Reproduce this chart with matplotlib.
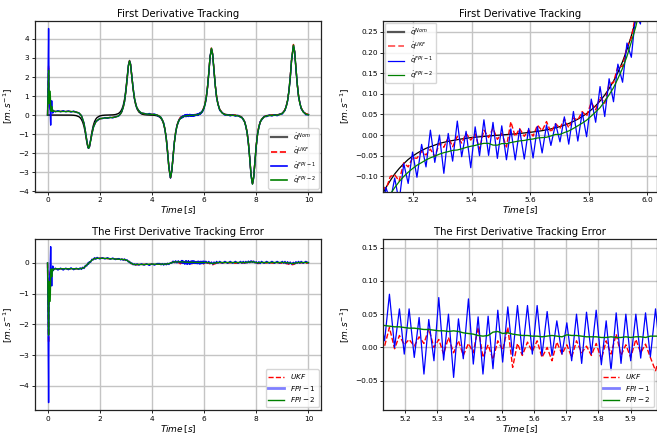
import numpy as np
import matplotlib
matplotlib.use("Agg")
import matplotlib.pyplot as plt
from matplotlib.lines import Line2D
from matplotlib.ticker import MultipleLocator

# ---------------- data ----------------
time_s = [
    0, 0.02, 0.04, 0.06, 0.08, 0.10, 0.12, 0.14, 0.16, 0.18, 0.20, 0.22, 0.25,
    0.3, 0.4, 0.5, 0.6, 0.7, 0.8, 0.9, 1.0, 1.1, 1.2,
    1.25, 1.3, 1.35, 1.4, 1.45, 1.5, 1.55, 1.571, 1.6, 1.65, 1.7, 1.75, 1.8, 1.85, 1.9, 2.0,
    2.1, 2.2, 2.3, 2.4, 2.5, 2.6, 2.7,
    2.75, 2.8, 2.85, 2.9, 2.95, 3.0, 3.05, 3.1, 3.142, 3.18, 3.23, 3.28, 3.33, 3.38, 3.43, 3.5, 3.6,
    3.7, 3.8, 3.9, 4.0, 4.1, 4.2,
    4.3, 4.35, 4.4, 4.45, 4.5, 4.55, 4.6, 4.65, 4.712, 4.76, 4.81, 4.86, 4.91, 4.96, 5.01, 5.06,
    5.091, 5.107, 5.122, 5.137, 5.152, 5.168, 5.183, 5.198, 5.213, 5.229,
    5.244, 5.259, 5.274, 5.290, 5.305, 5.320, 5.335, 5.351, 5.366, 5.381,
    5.397, 5.412, 5.427, 5.442, 5.458, 5.473, 5.488, 5.503, 5.519, 5.534,
    5.549, 5.564, 5.580, 5.595, 5.610, 5.625, 5.641, 5.656, 5.671, 5.687,
    5.702, 5.717, 5.732, 5.748, 5.763, 5.778, 5.793, 5.809, 5.824, 5.839,
    5.855, 5.870, 5.885, 5.900, 5.916, 5.931, 5.946, 5.961, 5.977, 5.992,
    6.007, 6.023, 6.038,
    6.08, 6.13, 6.18, 6.23, 6.283, 6.33, 6.38, 6.43, 6.48, 6.53, 6.6, 6.7, 6.8,
    6.9, 7.0, 7.1, 7.2, 7.3, 7.4,
    7.45, 7.5, 7.55, 7.6, 7.65, 7.7, 7.75, 7.8, 7.854, 7.9, 7.95, 8.0, 8.05, 8.1, 8.15, 8.2, 8.3,
    8.4, 8.5, 8.6, 8.7, 8.8, 8.9, 9.0,
    9.05, 9.1, 9.15, 9.2, 9.25, 9.3, 9.35, 9.425, 9.47, 9.52, 9.57, 9.62, 9.67, 9.72, 9.8, 9.9, 10.0,
]

q_nom = [
    0, 0, 0, 0, 0, 0, 0, 0, 0, 0, 0, 0, 0,
    0, 0, 0, 0, -0.001, -0.002, -0.004, -0.012, -0.032, -0.086,
    -0.141, -0.232, -0.381, -0.614, -0.959, -1.386, -1.712, -1.75, -1.678, -1.318, -0.894, -0.569, -0.35, -0.214, -0.13, -0.048,
    -0.018, -0.006, 0.0, 0.003, 0.009, 0.025, 0.069,
    0.114, 0.188, 0.31, 0.508, 0.824, 1.314, 1.975, 2.635, 2.87, 2.672, 2.032, 1.36, 0.855, 0.528, 0.322, 0.16, 0.059,
    0.022, 0.008, 0.001, -0.005, -0.015, -0.039,
    -0.107, -0.177, -0.291, -0.478, -0.782, -1.257, -1.947, -2.756, -3.3, -2.954, -2.171, -1.429, -0.894, -0.551, -0.333, -0.203,
    -0.149, -0.127, -0.110, -0.094, -0.081, -0.069, -0.059, -0.051, -0.044, -0.0375,
    -0.032, -0.028, -0.024, -0.020, -0.0175, -0.015, -0.013, -0.011, -0.0092, -0.0078,
    -0.006, -0.005, -0.0039, -0.0029, -0.002, -0.0012, -0.0003, 0.0005, 0.0013, 0.0021,
    0.003, 0.004, 0.0051, 0.0063, 0.0076, 0.009, 0.0108, 0.0128, 0.015, 0.0177,
    0.0207, 0.0242, 0.0281, 0.0332, 0.0386, 0.0449, 0.0521, 0.0612, 0.0711, 0.0825,
    0.097, 0.1125, 0.1308, 0.1518, 0.178, 0.2069, 0.2404, 0.279, 0.327, 0.380,
    0.441, 0.516, 0.600,
    0.903, 1.449, 2.219, 3.063, 3.5, 3.147, 2.32, 1.53, 0.956, 0.588, 0.293, 0.108, 0.04,
    0.015, 0.004, -0.002, -0.01, -0.028, -0.077,
    -0.127, -0.209, -0.344, -0.565, -0.921, -1.476, -2.257, -3.128, -3.6, -3.251, -2.401, -1.588, -0.994, -0.612, -0.371, -0.226, -0.083,
    -0.031, -0.011, -0.002, 0.005, 0.014, 0.038, 0.104,
    0.172, 0.284, 0.466, 0.766, 1.237, 1.937, 2.826, 3.66, 3.317, 2.46, 1.63, 1.02, 0.63, 0.382, 0.172, 0.063, 0.023,
]

err_ukf = [
    0, -1.5, -2.6, -0.8, -0.4, -0.3, -0.25, -0.25, -0.2, -0.22, -0.2, -0.2, -0.2,
    -0.19, -0.2, -0.19, -0.2, -0.19, -0.2, -0.19, -0.2, -0.19, -0.19,
    -0.19, -0.18, -0.16, -0.15, -0.11, -0.07, -0.02, 0.0, 0.01, 0.05, 0.09, 0.12, 0.14, 0.15, 0.15, 0.16,
    0.15, 0.15, 0.14, 0.14, 0.13, 0.13, 0.12,
    0.12, 0.12, 0.12, 0.11, 0.1, 0.1, 0.08, 0.06, 0.03, 0.0, -0.03, -0.05, -0.06, -0.05, -0.06, -0.05, -0.05,
    -0.05, -0.04, -0.05, -0.04, -0.05, -0.04,
    -0.04, -0.04, -0.04, -0.04, -0.04, -0.03, -0.03, -0.02, 0.0, 0.02, 0.03, 0.02, 0.01, 0.0, 0.01, 0.0,
    -0.030, 0.005, -0.010, 0.002, 0.030, -0.002, 0.018, 0.004, 0.012, 0.002,
    0.016, 0.006, 0.028, 0.000, 0.012, -0.010, 0.015, -0.008, 0.010, -0.012,
    0.006, -0.008, 0.030, -0.015, 0.004, -0.018, 0.010, -0.004, 0.030, -0.030,
    0.006, -0.012, 0.008, -0.006, 0.010, -0.015, 0.000, -0.020, 0.008, -0.010,
    0.004, -0.015, 0.010, -0.008, 0.002, -0.012, 0.006, -0.018, 0.010, -0.010,
    0.020, -0.012, 0.004, -0.015, 0.012, -0.008, 0.005, -0.015, -0.035, -0.010,
    0.000, -0.010, 0.000,
    0.0, 0.01, -0.01, -0.03, -0.05, -0.06, -0.04, -0.02, -0.01, 0.0, 0.01, 0.0, 0.01,
    0.0, 0.01, 0.0, -0.01, 0.0, 0.01,
    0.0, 0.0, 0.01, 0.0, 0.01, 0.02, 0.03, 0.04, 0.05, 0.04, 0.02, 0.0, -0.01, -0.02, 0.0, 0.0, 0.01,
    0.0, 0.01, 0.0, -0.01, 0.01, 0.0, -0.01,
    0.0, -0.01, -0.02, -0.03, -0.04, -0.05, -0.06, -0.05, -0.03, -0.01, 0.0, 0.01, 0.0, 0.01, 0.0, -0.01, 0.0,
]

err_fpi1 = [
    0, -2.0, -4.55, -1.0, -0.5, -0.2, 0.53, -0.3, -0.75, -0.3, -0.1, -0.25, -0.2,
    -0.17, -0.23, -0.17, -0.23, -0.17, -0.22, -0.16, -0.22, -0.17, -0.21,
    -0.16, -0.21, -0.14, -0.18, -0.08, -0.1, 0.0, -0.04, 0.04, 0.02, 0.12, 0.1, 0.17, 0.12, 0.18, 0.13,
    0.17, 0.13, 0.17, 0.12, 0.16, 0.11, 0.14,
    0.14, 0.1, 0.13, 0.09, 0.13, 0.08, 0.1, 0.03, 0.05, -0.02, 0.0, -0.06, -0.03, -0.07, -0.03, -0.07, -0.03,
    -0.07, -0.03, -0.08, -0.03, -0.07, -0.02,
    -0.02, -0.06, -0.02, -0.07, -0.02, -0.06, -0.01, -0.05, 0.01, -0.01, 0.06, 0.01, 0.07, 0.0, 0.07, 0.01,
    0.050, 0.000, 0.050, 0.010, 0.080, 0.000, 0.058, -0.010, 0.058, -0.015,
    0.045, -0.040, 0.042, -0.020, 0.075, -0.019, 0.050, -0.045, 0.043, -0.017,
    0.073, -0.025, 0.046, -0.040, 0.047, -0.032, 0.056, -0.022, 0.061, -0.013,
    0.063, -0.010, 0.063, -0.010, 0.063, -0.012, 0.054, -0.012, 0.040, -0.010,
    0.037, -0.020, 0.050, -0.024, 0.053, -0.010, 0.056, -0.026, 0.040, -0.035,
    0.052, -0.024, 0.050, -0.020, 0.050, -0.016, 0.052, -0.014, 0.058, -0.012,
    0.052, -0.010, 0.050,
    0.05, -0.01, 0.05, -0.02, 0.03, -0.04, 0.03, -0.02, 0.05, -0.01, 0.05, -0.01, 0.05,
    -0.01, 0.05, -0.01, 0.05, -0.01, 0.05,
    -0.01, 0.05, -0.01, 0.05, 0.0, 0.06, 0.01, 0.07, 0.02, 0.06, 0.0, 0.04, -0.02, 0.04, -0.02, 0.05, -0.01,
    0.05, -0.01, 0.05, -0.01, 0.05, -0.01, 0.05,
    -0.01, 0.05, -0.02, 0.04, -0.03, 0.03, -0.04, 0.02, -0.03, 0.04, -0.01, 0.05, -0.01, 0.05, -0.01, 0.05, 0.0,
]

err_fpi2 = [
    0, -1.2, -2.35, -0.6, -0.9, -1.25, -0.5, -0.2, -0.45, -0.2, -0.25, -0.2, -0.2,
    -0.19, -0.19, -0.19, -0.19, -0.19, -0.19, -0.19, -0.19, -0.19, -0.19,
    -0.19, -0.18, -0.17, -0.15, -0.11, -0.07, -0.03, -0.01, 0.01, 0.05, 0.09, 0.12, 0.14, 0.15, 0.15, 0.15,
    0.15, 0.15, 0.145, 0.14, 0.135, 0.13, 0.125,
    0.12, 0.12, 0.115, 0.11, 0.11, 0.1, 0.08, 0.05, 0.03, 0.0, -0.02, -0.04, -0.05, -0.05, -0.05, -0.05, -0.05,
    -0.05, -0.045, -0.045, -0.04, -0.04, -0.04,
    -0.04, -0.04, -0.04, -0.04, -0.04, -0.035, -0.03, -0.02, -0.01, 0.01, 0.025, 0.035, 0.036, 0.036, 0.035, 0.035,
    0.034, 0.034, 0.033, 0.033, 0.032, 0.031, 0.031, 0.030, 0.029, 0.029,
    0.028, 0.027, 0.027, 0.026, 0.025, 0.025, 0.024, 0.025, 0.024, 0.022,
    0.021, 0.020, 0.018, 0.017, 0.018, 0.023, 0.024, 0.021, 0.022, 0.020,
    0.019, 0.018, 0.018, 0.017, 0.017, 0.016, 0.017, 0.018, 0.017, 0.016,
    0.019, 0.018, 0.018, 0.017, 0.016, 0.016, 0.016, 0.015, 0.015, 0.016,
    0.015, 0.015, 0.016, 0.015, 0.016, 0.016, 0.015, 0.017, 0.017, 0.017,
    0.017, 0.017, 0.017,
    0.017, 0.015, 0.01, 0.0, -0.01, -0.02, -0.01, 0.0, 0.01, 0.015, 0.015, 0.015, 0.015,
    0.015, 0.015, 0.015, 0.015, 0.015, 0.015,
    0.015, 0.015, 0.015, 0.015, 0.02, 0.025, 0.03, 0.035, 0.035, 0.03, 0.02, 0.01, 0.005, 0.01, 0.015, 0.015, 0.015,
    0.015, 0.015, 0.015, 0.015, 0.015, 0.015, 0.015,
    0.015, 0.015, 0.01, 0.005, 0.0, -0.01, -0.015, -0.02, -0.01, 0.0, 0.01, 0.015, 0.015, 0.015, 0.015, 0.015, 0.015,
]

assert len(time_s) == len(q_nom) == len(err_ukf) == len(err_fpi1) == len(err_fpi2), \
    (len(time_s), len(q_nom), len(err_ukf), len(err_fpi1), len(err_fpi2))

t = np.array(time_s)
nom = np.array(q_nom)
e_ukf = np.array(err_ukf)
e_f1 = np.array(err_fpi1)
e_f2 = np.array(err_fpi2)
# estimates = nominal - tracking error
q_ukf = nom - e_ukf
q_f1 = nom - e_f1
q_f2 = nom - e_f2

# ---------------- figure ----------------
W, H = 657, 440
fig = plt.figure(figsize=(W / 100, H / 100), dpi=100)

def px_axes(x0, x1, y0, y1):
    return fig.add_axes([x0 / W, 1 - y1 / H, (x1 - x0) / W, (y1 - y0) / H])

ax_tl = px_axes(34.5, 321.5, 20.7, 191.7)
ax_tr = px_axes(383.3, 656.5, 20.7, 191.7)
ax_bl = px_axes(34.5, 321.5, 239, 410)
ax_br = px_axes(383.3, 656.5, 239, 410)

TITLE_FS = 7.3
LABEL_FS = 6.5
TICK_FS = 5.3
LEG_FS = 5.2
ylab = r'$[m.s^{-1}]$'
xlab = r'$Time\,[s]$'

for ax in (ax_tl, ax_tr, ax_bl, ax_br):
    ax.grid(True, color='#c4c4c4', lw=1.0)
    ax.set_axisbelow(True)
    ax.tick_params(labelsize=TICK_FS, length=2.5, width=0.6, pad=1.5)
    for s in ax.spines.values():
        s.set_linewidth(0.9)
        s.set_color('#222222')
    ax.set_xlabel(xlab, fontsize=LABEL_FS, labelpad=1)
    ax.set_ylabel(ylab, fontsize=LABEL_FS, labelpad=2)

# top-left
ax = ax_tl
ax.plot(t, nom, color='k', lw=1.0)
ax.plot(t, q_ukf, 'r--', lw=1.0)
ax.plot(t, q_f1, color='b', lw=1.0)
ax.plot(t, q_f2, color='g', lw=1.0)
ax.set_xlim(-0.5, 10.5)
ax.set_ylim(-4.03, 4.96)
ax.set_title('First Derivative Tracking', fontsize=TITLE_FS, pad=3)
h_top = [Line2D([], [], color='#555555', lw=1.6),
         Line2D([], [], color='r', ls='--', lw=1.2),
         Line2D([], [], color='b', lw=1.2),
         Line2D([], [], color='g', lw=1.2)]
l_top = [r'$\dot{q}^{Nom}$', r'$\dot{q}^{UKF}$', r'$\dot{q}^{FPI-1}$', r'$\dot{q}^{FPI-2}$']
ax.legend(h_top, l_top, loc='lower right', fontsize=LEG_FS, handlelength=2.2,
          labelspacing=0.35, borderpad=0.4, handletextpad=0.8, borderaxespad=0.4)

# top-right (zoom)
ax = ax_tr
ax.plot(t, nom, color='k', lw=0.9)
ax.plot(t, q_ukf, 'r--', lw=1.0)
ax.plot(t, q_f1, color='b', lw=0.9)
ax.plot(t, q_f2, color='g', lw=0.9)
ax.set_xlim(5.098, 6.032)
ax.set_ylim(-0.137, 0.277)
ax.xaxis.set_major_locator(MultipleLocator(0.2))
ax.yaxis.set_major_locator(MultipleLocator(0.05))
ax.set_title('First Derivative Tracking', fontsize=TITLE_FS, pad=3)
h_top2 = [Line2D([], [], color='#555555', lw=1.6),
          Line2D([], [], color='r', ls='--', lw=1.4, alpha=0.6),
          Line2D([], [], color='b', lw=0.9),
          Line2D([], [], color='g', lw=0.9)]
ax.legend(h_top2, l_top, loc='upper left', fontsize=LEG_FS, handlelength=2.2,
          labelspacing=0.35, borderpad=0.4, handletextpad=0.8, borderaxespad=0.3)

# bottom-left
ax = ax_bl
ax.plot(t, e_ukf, 'r--', lw=1.0)
ax.plot(t, e_f1, color='b', lw=1.0)
ax.plot(t, e_f2, color='g', lw=1.0)
ax.set_xlim(-0.5, 10.5)
ax.set_ylim(-4.79, 0.78)
ax.set_title('The First Derivative Tracking Error', fontsize=TITLE_FS, pad=3)
h_bot = [Line2D([], [], color='r', ls='--', lw=1.0),
         Line2D([], [], color='b', lw=2.0, alpha=0.5),
         Line2D([], [], color='g', lw=1.0)]
l_bot = [r'$UKF$', r'$FPI-1$', r'$FPI-2$']
ax.legend(h_bot, l_bot, loc='lower right', fontsize=LEG_FS, handlelength=2.2,
          labelspacing=0.35, borderpad=0.4, handletextpad=0.8, borderaxespad=0.4)

# bottom-right (zoom)
ax = ax_br
ax.plot(t, e_ukf, 'r--', lw=1.0)
ax.plot(t, e_f1, color='b', lw=0.9)
ax.plot(t, e_f2, color='g', lw=1.0)
ax.set_xlim(5.133, 5.98)
ax.set_ylim(-0.094, 0.163)
ax.xaxis.set_major_locator(MultipleLocator(0.1))
ax.yaxis.set_major_locator(MultipleLocator(0.05))
ax.set_title('The First Derivative Tracking Error', fontsize=TITLE_FS, pad=3)
ax.legend(h_bot, l_bot, loc='lower right', fontsize=LEG_FS, handlelength=2.2,
          labelspacing=0.35, borderpad=0.4, handletextpad=0.8, borderaxespad=0.4)

fig.savefig('out.png', dpi=100)
